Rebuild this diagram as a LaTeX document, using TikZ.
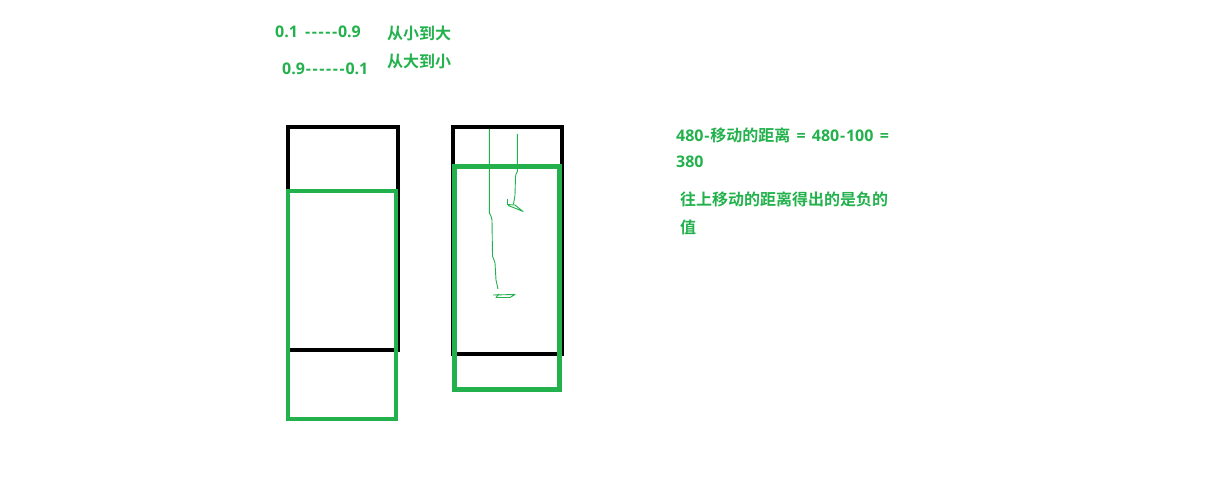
\documentclass[tikz,border=0pt]{standalone}
\usepackage{fontspec}
\setmainfont[Ligatures=TeXOff,WordSpace=1.5]{Open Sans Bold}
\newfontfamily\cjk{Noto Sans CJK SC Bold}
\definecolor{paintgreen}{RGB}{34,177,76}
\newcommand\hy{\kern0.8pt-\kern0.8pt}

\begin{document}
\begin{tikzpicture}[
  x=1pt,
  y=-1pt,
  note/.style={
    anchor=west,
    inner sep=0pt,
    text=paintgreen,
    font=\fontsize{16}{20}\selectfont
  },
  blackbox/.style={
    draw=black,
    line width=4pt
  },
  greenbox/.style={
    draw=paintgreen,
    line width=4.5pt
  },
  scribble/.style={
    draw=paintgreen,
    line width=0.9pt,
    line join=round
  }
]
\useasboundingbox (0,0) rectangle (1218,502);
% notes at the top
\node[note] (upA) at (275,32) {0.1 \hy\hy\hy\hy\hy0.9};
\node[note] (upB) at (387,33) {\cjk 从小到大};
\node[note] (downA) at (282,69) {0.9\hy\hy\hy\hy\hy\hy0.1};
\node[note] (downB) at (387,61) {\cjk 从大到小};
% left pair of frames
\draw[blackbox] (288,127) rectangle (398,350);
\draw[greenbox] (288,191) rectangle (396,419);
% right pair of frames
\draw[blackbox] (452.5,127) rectangle (562,354);
\draw[greenbox] (454.5,166.5) rectangle (559.5,389.5);
% hand drawn strokes
\draw[scribble] (489.3,129) -- (489.3,213) -- (491,216) -- (492,220) -- (492.5,256) -- (494,260) -- (495,263) -- (496,280) -- (498,289);
\draw[scribble] (493,295) -- (515,294.5) -- (510,297.5) -- (496,297.5) -- (499,294);
\draw[scribble] (517.3,134) -- (517.3,171.5) -- (516,174) -- (515.5,177) -- (515,195) -- (514,201) -- (513.5,204);
\draw[scribble] (507.3,199) -- (507.3,205);
\draw[scribble] (507,204.5) -- (515,205) -- (523,211.5) -- (516,208.5) -- (508,205.5);
% notes on the right
\node[note] (calc) at (676,135) {480\hy{\cjk 移动的距离} = 480\hy100 =};
\node[note] (result) at (676,162) {380};
\node[note] (hint) at (680,199) {\cjk 往上移动的距离得出的是负的};
\node[note] (hintEnd) at (680,227) {\cjk 值};
\end{tikzpicture}
\end{document}
